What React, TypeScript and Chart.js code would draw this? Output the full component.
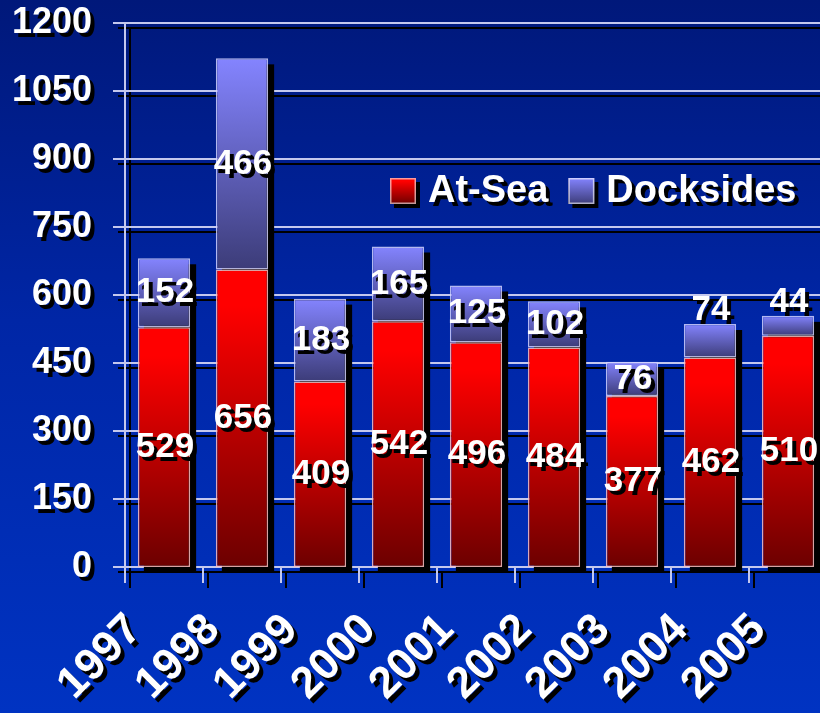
import React, { useEffect, useRef } from "react";
import { Chart, registerables } from "chart.js";

Chart.register(...registerables);

// ---- data ----
const years = ["1997", "1998", "1999", "2000", "2001", "2002", "2003", "2004", "2005"];
const atSea = [529, 656, 409, 542, 496, 484, 377, 462, 510];
const docksides = [152, 466, 183, 165, 125, 102, 76, 74, 44];
const seriesNames = ["At-Sea", "Docksides"];
const yMin = 0;
const yMax = 1200;
const yStep = 150;

const FONT = '"Liberation Sans", Arial, Helvetica, sans-serif';
const GRID = "#c4c8ee";

function setShadow(ctx: CanvasRenderingContext2D, dx: number, dy: number) {
  ctx.shadowColor = "#000000";
  ctx.shadowOffsetX = dx;
  ctx.shadowOffsetY = dy;
  ctx.shadowBlur = 0;
}
function clearShadow(ctx: CanvasRenderingContext2D) {
  ctx.shadowColor = "rgba(0,0,0,0)";
  ctx.shadowOffsetX = 0;
  ctx.shadowOffsetY = 0;
  ctx.shadowBlur = 0;
}

function redGrad(ctx: CanvasRenderingContext2D, top: number, bot: number) {
  const g = ctx.createLinearGradient(0, top, 0, bot);
  g.addColorStop(0, "#ff0000");
  g.addColorStop(0.12, "#ff0000");
  g.addColorStop(1, "#6c0000");
  return g;
}
function blueGrad(ctx: CanvasRenderingContext2D, top: number, bot: number) {
  const g = ctx.createLinearGradient(0, top, 0, bot);
  g.addColorStop(0, "#8484ff");
  g.addColorStop(1, "#3c3c78");
  return g;
}

const zeroPadding = (s: any) => {
  s.paddingTop = 0;
  s.paddingBottom = 0;
  s.paddingLeft = 0;
  s.paddingRight = 0;
};

const decorPlugin = {
  id: "decor",
  beforeDraw(chart: any) {
    // text shadow for the axis tick labels drawn next by the scales
    setShadow(chart.ctx, 4, 4);
  },
  beforeDatasetsDraw(chart: any) {
    const ctx: CanvasRenderingContext2D = chart.ctx;
    clearShadow(ctx);
    const { left, top, bottom } = chart.chartArea;
    const W = chart.width;
    const y = chart.scales.y;
    const x = chart.scales.x;
    const half = (x.getPixelForValue(1) - x.getPixelForValue(0)) / 2;
    const n = years.length;
    const tickLen = 16;
    const sh = 5;

    const drawAll = (color: string, off: number) => {
      ctx.strokeStyle = color;
      ctx.lineWidth = 2;
      ctx.beginPath();
      y.ticks.forEach((t: any) => {
        const py = Math.round(y.getPixelForValue(t.value)) + off;
        ctx.moveTo(left - 12 + off, py);
        ctx.lineTo(W, py);
      });
      ctx.moveTo(left + off, top + off);
      ctx.lineTo(left + off, bottom + tickLen + off);
      for (let i = 1; i <= n; i++) {
        const px = Math.round(x.getPixelForValue(i - 1) + half) + off;
        ctx.moveTo(px, bottom + off);
        ctx.lineTo(px, bottom + tickLen + off);
      }
      ctx.stroke();
    };
    drawAll("#000000", sh);
    drawAll(GRID, 0);

    // bar drop shadows
    const m0 = chart.getDatasetMeta(0);
    const m1 = chart.getDatasetMeta(1);
    ctx.fillStyle = "#000000";
    m0.data.forEach((el: any, i: number) => {
      const e1 = m1.data[i];
      const w = el.width;
      const t = Math.min(el.y, e1 ? e1.y : el.y);
      const b = el.base;
      ctx.fillRect(el.x - w / 2 + 6, t + 6, w, b - t);
    });
  },
  afterDatasetsDraw(chart: any) {
    const ctx: CanvasRenderingContext2D = chart.ctx;
    ctx.save();
    setShadow(ctx, 4, 4);
    ctx.fillStyle = "#ffffff";
    ctx.textAlign = "center";
    ctx.textBaseline = "middle";
    ctx.font = `bold 35px ${FONT}`;
    chart.data.datasets.forEach((ds: any, di: number) => {
      const meta = chart.getDatasetMeta(di);
      meta.data.forEach((el: any, i: number) => {
        const h = el.base - el.y;
        const yy = h < 34 ? el.y - 14 : (el.y + el.base) / 2;
        ctx.fillText(String(ds.data[i]), el.x + 1, yy);
      });
    });

    // legend
    ctx.font = `bold 38px ${FONT}`;
    ctx.textAlign = "left";
    let lx = 390;
    const ly = 178;
    const box = 26;
    chart.data.datasets.forEach((ds: any, di: number) => {
      setShadow(ctx, 4, 4);
      ctx.fillStyle = "#000000";
      ctx.fillRect(lx, ly, box, box);
      clearShadow(ctx);
      ctx.fillStyle = di === 0 ? redGrad(ctx, ly, ly + box) : blueGrad(ctx, ly, ly + box);
      ctx.fillRect(lx, ly, box, box);
      ctx.strokeStyle = "rgba(255,255,255,0.6)";
      ctx.lineWidth = 1.5;
      ctx.strokeRect(lx + 0.75, ly + 0.75, box - 1.5, box - 1.5);
      setShadow(ctx, 4, 4);
      ctx.fillStyle = "#ffffff";
      ctx.fillText(ds.label, lx + 38, ly + box / 2 + 1);
      lx += 38 + ctx.measureText(ds.label).width + 20;
    });
    ctx.restore();
  },
};

export default function App() {
  const ref = useRef<HTMLCanvasElement | null>(null);

  useEffect(() => {
    const canvas = ref.current;
    if (!canvas) return;
    const chart = new Chart(canvas, {
      type: "bar",
      data: {
        labels: years,
        datasets: [
          {
            label: seriesNames[0],
            data: atSea,
            backgroundColor: (c: any) => {
              const ch = c.chart;
              const ys = ch.scales && ch.scales.y;
              if (!ch.chartArea || !ys || c.dataIndex === undefined) return "#ff0000";
              const top = ys.getPixelForValue(atSea[c.dataIndex]);
              const bot = ys.getPixelForValue(0);
              return redGrad(ch.ctx, top, bot);
            },
            borderColor: "rgba(255,190,190,0.85)",
            borderWidth: 1.5,
            borderSkipped: false,
            barPercentage: 0.67,
            categoryPercentage: 1,
          },
          {
            label: seriesNames[1],
            data: docksides,
            backgroundColor: (c: any) => {
              const ch = c.chart;
              const ys = ch.scales && ch.scales.y;
              if (!ch.chartArea || !ys || c.dataIndex === undefined) return "#8080ff";
              const base = atSea[c.dataIndex];
              const top = ys.getPixelForValue(base + docksides[c.dataIndex]);
              const bot = ys.getPixelForValue(base);
              return blueGrad(ch.ctx, top, bot);
            },
            borderColor: "rgba(210,210,255,0.85)",
            borderWidth: 1.5,
            borderSkipped: false,
            barPercentage: 0.67,
            categoryPercentage: 1,
          },
        ],
      },
      options: {
        responsive: false,
        animation: false,
        layout: { padding: { top: 23, right: 3, left: 0, bottom: 0 } },
        plugins: {
          legend: { display: false },
          tooltip: { enabled: false },
        },
        scales: {
          x: {
            stacked: true,
            offset: true,
            grid: { display: false, drawTicks: false },
            border: { display: false },
            ticks: {
              color: "#ffffff",
              font: { family: FONT, size: 44, weight: "bold" },
              minRotation: 45,
              maxRotation: 45,
              autoSkip: false,
              padding: 37,
              labelOffset: -29,
            },
            afterFit: (s: any) => {
              s.height = 146;
              zeroPadding(s);
            },
          },
          y: {
            stacked: true,
            min: yMin,
            max: yMax,
            grid: { display: false, drawTicks: false },
            border: { display: false },
            ticks: {
              stepSize: yStep,
              color: "#ffffff",
              font: { family: FONT, size: 36, weight: "bold" },
              padding: 33,
              callback: (v: any) => String(v),
            },
            afterFit: (s: any) => {
              s.width = 125;
              zeroPadding(s);
            },
          },
        },
      },
      plugins: [decorPlugin],
    } as any);
    return () => chart.destroy();
  }, []);

  return (
    <div
      style={{
        position: "fixed",
        left: 0,
        top: 0,
        width: 820,
        height: 713,
        overflow: "hidden",
        background: "linear-gradient(to bottom, #00187a 0%, #0026a6 45%, #0033c2 100%)",
      }}
    >
      <canvas ref={ref} width={830} height={713} style={{ display: "block" }} />
    </div>
  );
}
